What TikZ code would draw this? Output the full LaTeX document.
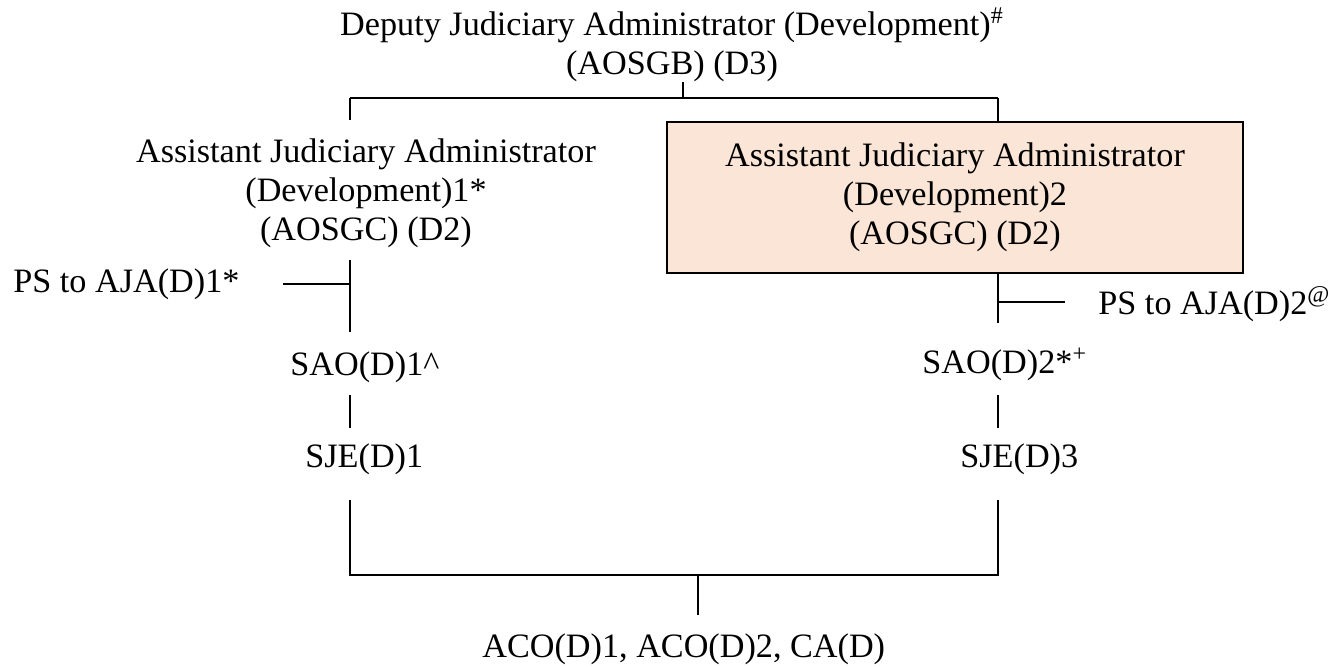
\documentclass[tikz,border=0pt]{standalone}
\usepackage{fontspec}
\setmainfont{Liberation Serif}
\usetikzlibrary{positioning,calc}
\definecolor{Peach}{HTML}{FBE5D6}

\begin{document}
\begin{tikzpicture}[x=0.5pt,y=-0.5pt,
    every node/.style={font=\fontsize{17.1pt}{19.5pt}\selectfont, inner sep=0pt},
    post/.style={align=center},
    peachbox/.style={draw, line width=0.9pt, fill=Peach, minimum width=288pt, minimum height=75.5pt},
    link/.style={line width=1pt}]
    \useasboundingbox (0,0) rectangle (1343,667);

    % posts
    \node[post, anchor=base] (dja) at (672,75)
        {Deputy Judiciary Administrator (Development)\textsuperscript{\#}\\(AOSGB) (D3)};
    \node[post, anchor=base] (aja1) at (366,241)
        {Assistant Judiciary Administrator\\(Development)1*\\(AOSGC) (D2)};
    \node[peachbox, post] (aja2) at (955,197.5)
        {Assistant Judiciary Administrator\\(Development)2\\(AOSGC) (D2)};

    \node[anchor=base west] (ps1) at (13,293) {PS to AJA(D)1*};
    \node[anchor=base west] (sao1) at (290,376) {SAO(D)1\textasciicircum};
    \node[anchor=base west] (sje1) at (305,468) {SJE(D)1};

    \node[anchor=base west] (ps2) at (1098,315) {PS to AJA(D)2\textsuperscript{@}};
    \node[anchor=base west] (sao2) at (922,374) {SAO(D)2*\textsuperscript{+}};
    \node[anchor=base west] (sje3) at (960,468) {SJE(D)3};

    \node[anchor=base west] (aco) at (482,657) {ACO(D)1, ACO(D)2, CA(D)};

    % columns
    \coordinate (lcol) at (350,0);
    \coordinate (rcol) at (998,0);
    \coordinate (toptick) at (683,82);
    \coordinate (topbar) at (683,98);
    \coordinate (botbar) at (698,575);
    \coordinate (bottick) at (698,615);

    % top
    \draw[link] (toptick) -- (topbar);
    \draw[link] (lcol |- topbar) -- (rcol |- topbar);
    \draw[link] (lcol |- topbar) -- ++(0,22);
    \draw[link] (rcol |- topbar) -- (rcol |- aja2.north);

    % left column
    \draw[link] (350,260) -- (350,332);
    \draw[link] (283,284) -- (350,284);
    \draw[link] (350,395) -- (350,428);

    % right column
    \draw[link] (rcol |- aja2.south) -- (998,323);
    \draw[link] (998,302) -- (1065,302);
    \draw[link] (998,395) -- (998,428);

    % bottom
    \draw[link] (350,500) -- (lcol |- botbar) -- (rcol |- botbar) -- (998,500);
    \draw[link] (botbar) -- (bottick);
\end{tikzpicture}
\end{document}
